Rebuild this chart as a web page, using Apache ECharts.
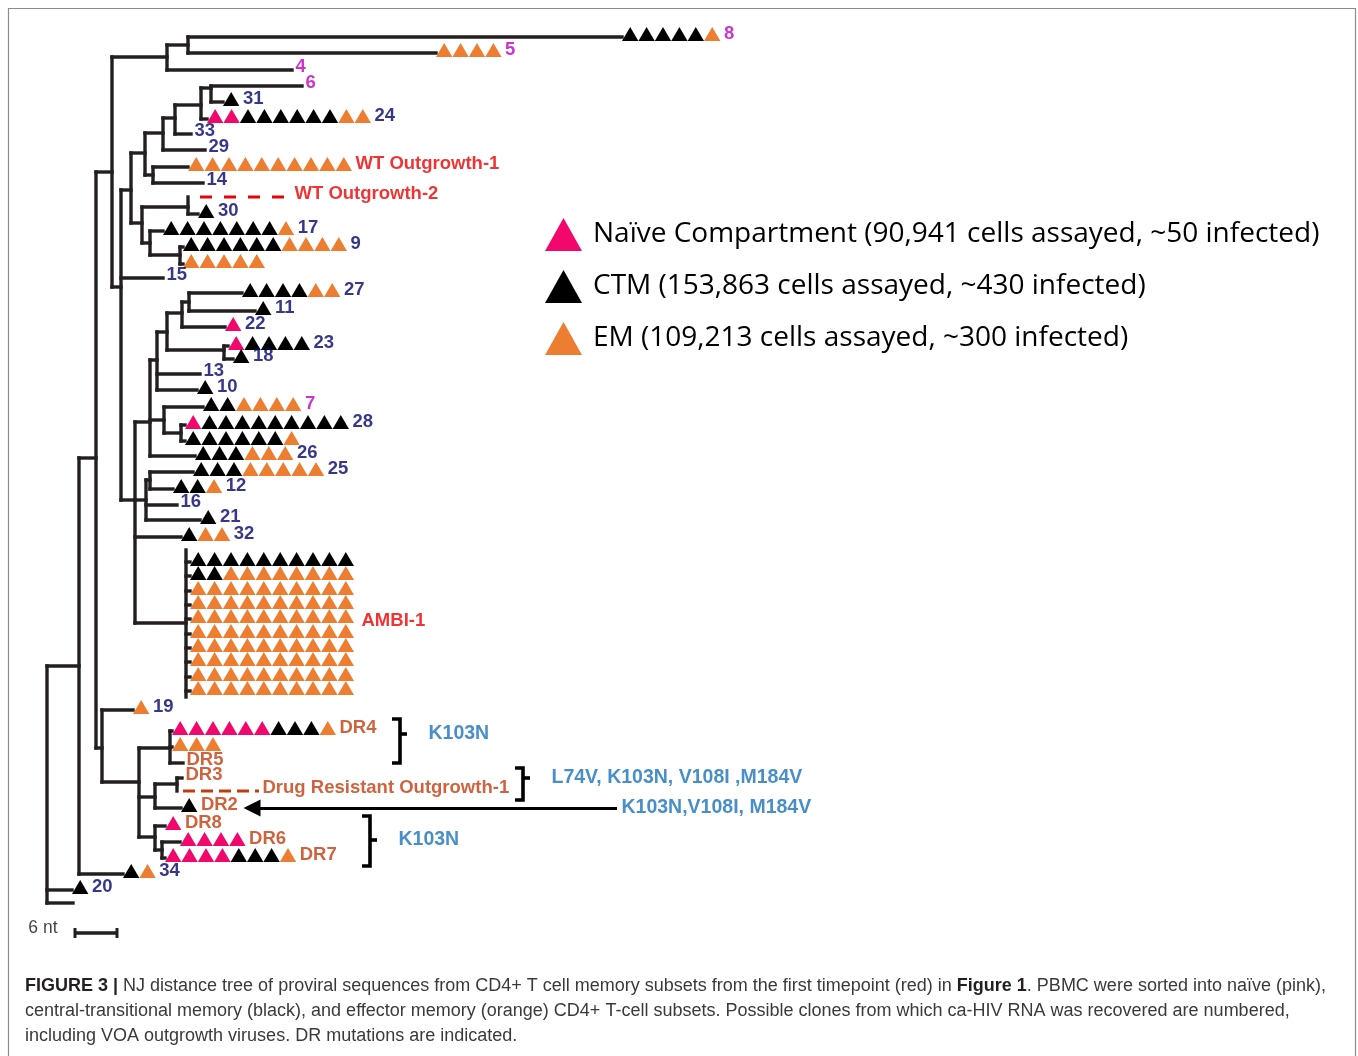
<!DOCTYPE html>
<html><head><meta charset="utf-8">
<script src="https://cdn.jsdelivr.net/npm/echarts@6/dist/echarts.min.js"></script>
<style>html,body{margin:0;padding:0;background:#fff}#c{width:1358px;height:1056px}</style>
</head><body><div id="c"></div>
<script>
// ---------- DATA ----------
// internal tree nodes: [id, parent, distance (x), row (y)]
const nodes = [
  ['R', null, 47, 785],
  ['B', 'R', 79, 666],
  ['C', 'B', 96, 458],
  ['A', 'C', 112, 172],
  ['T1', 'A', 167, 57],
  ['T2', 'T1', 188, 45],
  ['E', 'A', 121, 287],
  ['F', 'E', 131, 190],
  ['G1', 'F', 145, 153],
  ['G1a', 'G1', 163, 133],
  ['G1b', 'G1a', 175, 118],
  ['P', 'G1b', 201, 105],
  ['Q', 'P', 211, 88],
  ['Nwt', 'G1', 153, 175],
  ['G2', 'F', 142, 223],
  ['N30', 'G2', 188, 207],
  ['N17', 'G2', 150, 243],
  ['N9', 'N17', 180, 255],
  ['H', 'E', 135, 500],
  ['I', 'H', 150, 422],
  ['N1', 'I', 157, 360],
  ['N2', 'N1', 167, 332],
  ['N3', 'N2', 182, 313],
  ['N5', 'N3', 189, 302],
  ['N4', 'N2', 224, 350],
  ['N7', 'I', 164, 420],
  ['N8', 'N7', 181, 433],
  ['L', 'H', 146, 500],
  ['K', 'L', 150, 480],
  ['AMBI', 'H', 186, 623],
  ['D', 'C', 102, 748],
  ['E2', 'D', 139, 782],
  ['DR45', 'E2', 170, 748],
  ['Ndr3', 'E2', 155, 797],
  ['Ndr3b', 'Ndr3', 177, 784],
  ['Ndr8', 'E2', 155, 837],
  ['Ndr67', 'Ndr8', 162, 850]
];

// leaves: [label, parent, row (y), branch end (x), cells: P=naive, B=CTM, O=EM]
const leaves = [
  ['8', 'T2', 37, 622, 'BBBBBO'],
  ['5', 'T2', 53, 436, 'OOOO'],
  ['4', 'T1', 70, 292, ''],
  ['6', 'Q', 86, 302, ''],
  ['31', 'Q', 102, 223, 'B'],
  ['24', 'P', 119, 207, 'PPBBBBBBOO'],
  ['33', 'G1b', 134, 191, ''],
  ['29', 'G1a', 150, 205, ''],
  ['WT Outgrowth-1', 'Nwt', 167, 188, 'OOOOOOOOOO'],
  ['14', 'Nwt', 183, 203, ''],
  ['WT Outgrowth-2', 'N30', 197, 291, ''],
  ['30', 'N30', 214, 198, 'B'],
  ['17', 'N17', 231, 163, 'BBBBBBBO'],
  ['9', 'N9', 247, 183, 'BBBBBBOOOO'],
  ['', 'N9', 264, 183, 'OOOOO'],
  ['15', 'E', 278, 163, ''],
  ['27', 'N5', 293, 242, 'BBBBOO'],
  ['11', 'N5', 311, 255, 'B'],
  ['22', 'N3', 327, 225, 'P'],
  ['23', 'N4', 346, 228, 'PBBBB'],
  ['18', 'N4', 359, 233, 'B'],
  ['13', 'N1', 374, 200, ''],
  ['10', 'N1', 390, 197, 'B'],
  ['7', 'N7', 407, 203, 'BBOOOO'],
  ['28', 'N8', 425, 185, 'PBBBBBBBBB'],
  ['', 'N8', 441, 185, 'BBBBBBO'],
  ['26', 'I', 456, 195, 'BBBOOO'],
  ['25', 'K', 472, 193, 'BBBOOOOO'],
  ['12', 'K', 489, 173, 'BBO'],
  ['16', 'L', 505, 177, ''],
  ['21', 'L', 520, 200, 'B'],
  ['32', 'H', 537, 181, 'BOO'],
  ['19', 'D', 710, 133, 'O'],
  ['DR4', 'DR45', 731, 172, 'PPPPPPBBBO'],
  ['', 'DR45', 747, 172, 'OOO'],
  ['DR5', 'DR45', 763, 183, ''],
  ['DR3', 'Ndr3b', 778, 182, ''],
  ['Drug Resistant Outgrowth-1', 'Ndr3b', 791, 259, ''],
  ['DR2', 'Ndr3', 808, 181, 'B'],
  ['DR8', 'Ndr8', 826, 165, 'P'],
  ['DR6', 'Ndr67', 842, 180, 'PPPP'],
  ['DR7', 'Ndr67', 858, 165, 'PPPPBBBO'],
  ['34', 'B', 874, 123, 'BO'],
  ['20', 'R', 890, 72, 'B'],
  ['', 'R', 903, 73, '']
];

// AMBI-1 clone: rows of cells hanging from node AMBI
const ambiLabel = 'AMBI-1';
const ambiRowsY = [562, 576, 591, 605, 619, 634, 648, 662, 677, 691];
const ambiRowsEnd = 190;
const ambiRows = ['BBBBBBBBBB', 'BBOOOOOOOO', 'OOOOOOOOOO', 'OOOOOOOOOO', 'OOOOOOOOOO',
                  'OOOOOOOOOO', 'OOOOOOOOOO', 'OOOOOOOOOO', 'OOOOOOOOOO', 'OOOOOOOOOO'];

// compartments (legend)
const compartments = ['P', 'B', 'O'];
const compartmentNames = [
  'Naïve Compartment (90,941 cells assayed, ~50 infected)',
  'CTM (153,863 cells assayed, ~430 infected)',
  'EM (109,213 cells assayed, ~300 infected)'
];

// DR mutation brackets: [text, top row, bottom row, tick row, bracket x]
const bracketNotes = [
  ['K103N', 719, 763, 734, 392],
  ['L74V, K103N, V108I ,M184V', 768, 800, 778, 515],
  ['K103N', 816, 866, 840, 362]
];
// arrow note: [text, row, from x, to x]
const arrowNote = ['K103N,V108I, M184V', 808, 617, 250];

// scale bar: 6 nt, 7 distance units per nt
const scaleNt = 6, unitsPerNt = 7, scaleStart = 75, scaleRow = 933;

// ---------- STYLE ----------
const TW = 16.4, TH = 14;
const cellColors = { P: '#f2086c', B: '#000000', O: '#ed7d31' };
const treeColor = '#231f20';
const magentaSet = ['8', '5', '4', '6', '7'];
const redSet = ['WT Outgrowth-1', 'WT Outgrowth-2', 'AMBI-1'];
const dashStyles = {
  'WT Outgrowth-2': { color: '#ee0000', dash: [12, 12], offset: 12 },
  'Drug Resistant Outgrowth-1': { color: '#c43c0c', dash: [12, 6], offset: 12 }
};
function labelColor(t) {
  if (magentaSet.includes(t)) return '#c000c0';
  if (redSet.includes(t)) return '#ee0000';
  if (t.startsWith('DR') || t.startsWith('Drug')) return '#c43c0c';
  return '#04046e';
}

// ---------- BUILD ----------
const nodeMap = {};
nodes.forEach(n => nodeMap[n[0]] = { id: n[0], parent: n[1], x: n[2], y: n[3], ys: [] });
nodes.forEach(n => { if (n[1]) nodeMap[n[1]].ys.push(n[3]); });

const allLeaves = leaves.map(l => ({ label: l[0], parent: l[1], y: l[2], end: l[3], cells: l[4] }));
ambiRowsY.forEach((y, i) => allLeaves.push({ label: '', parent: 'AMBI', y: y, end: ambiRowsEnd, cells: ambiRows[i] }));
allLeaves.forEach(l => nodeMap[l.parent].ys.push(l.y));

// segments: [x1, y1, x2, y2, styleKey]
const segs = [];
Object.values(nodeMap).forEach(n => {
  const ys = n.ys.slice();
  if (n.parent) ys.push(n.y);
  let y0 = Math.min(...ys), y1 = Math.max(...ys);
  if (n.id === 'AMBI') { y0 -= 12; y1 += 6; }
  segs.push([n.x, y0, n.x, y1, '']);
  if (n.parent) segs.push([nodeMap[n.parent].x, n.y, n.x, n.y, '']);
});

const cellPts = { P: [], B: [], O: [] };
const labelPts = [];
allLeaves.forEach(l => {
  const px = nodeMap[l.parent].x;
  segs.push([px, l.y, l.end, l.y, dashStyles[l.label] ? l.label : '']);
  for (let i = 0; i < l.cells.length; i++) {
    cellPts[l.cells[i]].push([l.end + TW / 2 + i * TW, l.y]);
  }
  if (l.label) {
    labelPts.push({ name: l.label, value: [l.end + l.cells.length * TW + 3, l.y - 3],
      label: { color: labelColor(l.label) } });
  }
});
const ambiNode = nodeMap['AMBI'];
labelPts.push({ name: ambiLabel, value: [ambiRowsEnd + 10 * TW + 7, ambiNode.y - 2],
  label: { color: labelColor(ambiLabel) } });

// brackets as polylines
const bracketPolys = [];
const noteLabels = [];
bracketNotes.forEach(b => {
  const [t, top, bot, tick, bx] = b;
  bracketPolys.push([[bx, top], [bx + 8, top], [bx + 8, bot], [bx, bot]]);
  bracketPolys.push([[bx + 8, tick], [bx + 15, tick]]);
  noteLabels.push({ name: t, value: [bx + 36, tick] });
});
noteLabels.push({ name: arrowNote[0], value: [arrowNote[2] + 4, arrowNote[1]] });

const series = [];
series.push({
  type: 'custom', silent: true, z: 2,
  encode: { x: [0, 2], y: [1, 3] },
  data: segs,
  renderItem: function (params, api) {
    const d = segs[params.dataIndex];
    const p1 = api.coord([d[0], d[1]]), p2 = api.coord([d[2], d[3]]);
    const ds = dashStyles[d[4]];
    if (ds) {
      return { type: 'line', shape: { x1: p1[0], y1: p1[1], x2: p2[0], y2: p2[1] },
        style: { stroke: ds.color, lineWidth: 3, lineDash: ds.dash, lineDashOffset: ds.offset, lineCap: 'butt' } };
    }
    return { type: 'line', shape: { x1: p1[0], y1: p1[1], x2: p2[0], y2: p2[1] },
      style: { stroke: treeColor, lineWidth: 3.4, lineCap: 'square' } };
  }
});
series.push({
  type: 'custom', silent: true, z: 2,
  data: bracketPolys.map((p, i) => [p[0][0], p[0][1], i]),
  encode: { x: 0, y: 1 },
  renderItem: function (params, api) {
    const pts = bracketPolys[params.dataIndex].map(p => api.coord(p));
    return { type: 'polyline', shape: { points: pts },
      style: { stroke: '#000', lineWidth: 3.6, fill: null, lineJoin: 'miter', lineCap: 'butt' } };
  }
});
series.push({
  type: 'lines', coordinateSystem: 'cartesian2d', silent: true, z: 2,
  symbol: ['none', 'triangle'], symbolSize: [0, 17],
  lineStyle: { color: '#000', width: 3, opacity: 1 },
  itemStyle: { color: '#000' },
  data: [{ coords: [[arrowNote[2], arrowNote[1]], [arrowNote[3] + 2, arrowNote[1]]] }]
});
series.push({
  type: 'line', silent: true, z: 2,
  data: [[scaleStart, scaleRow], [scaleStart + scaleNt * unitsPerNt, scaleRow]],
  symbol: 'rect', symbolSize: [3, 10], showSymbol: true,
  itemStyle: { color: treeColor }, lineStyle: { color: treeColor, width: 3.6 }
});
compartments.forEach((c, i) => {
  series.push({
    type: 'scatter', name: compartmentNames[i], silent: true, z: 4,
    symbol: 'triangle', symbolSize: [TW, TH], symbolOffset: [0, -3],
    itemStyle: { color: cellColors[c], opacity: 1 },
    data: cellPts[c]
  });
});
series.push({
  type: 'scatter', silent: true, z: 5, symbolSize: 1,
  itemStyle: { color: 'rgba(0,0,0,0)' },
  label: { show: true, position: 'right', distance: 0, formatter: '{b}',
    fontFamily: 'Liberation Sans', fontWeight: 'bold', fontSize: 18.5 },
  data: labelPts
});
series.push({
  type: 'scatter', silent: true, z: 5, symbolSize: 1,
  itemStyle: { color: 'rgba(0,0,0,0)' },
  label: { show: true, position: 'right', distance: 0, formatter: '{b}', color: '#1a72ba',
    fontFamily: 'Liberation Sans', fontWeight: 'bold', fontSize: 19.5 },
  data: noteLabels
});
series.push({
  type: 'scatter', silent: true, z: 5, symbolSize: 1,
  itemStyle: { color: 'rgba(0,0,0,0)' },
  label: { show: true, position: 'left', distance: 0, formatter: '{b}', color: '#111',
    fontFamily: 'Liberation Sans', fontSize: 17.5 },
  data: [{ name: scaleNt + ' nt', value: [scaleStart - 17, scaleRow - 5] }]
});

const option = {
  animation: false,
  backgroundColor: '#ffffff',
  grid: { left: 0, right: 0, top: 0, bottom: 0 },
  xAxis: { type: 'value', min: 0, max: 1358, show: false },
  yAxis: { type: 'value', min: 0, max: 1056, inverse: true, show: false },
  legend: {
    data: compartmentNames, orient: 'vertical', left: 545, top: 218, padding: 0,
    icon: 'triangle', itemWidth: 37, itemHeight: 33, itemGap: 19, selectedMode: false,
    textStyle: { fontFamily: 'Open Sans', fontSize: 28, color: '#000', padding: [0, 0, 0, 6] }
  },
  graphic: [
    { type: 'rect', shape: { x: 8.5, y: 8.5, width: 1347, height: 1080 }, silent: true,
      style: { fill: 'none', stroke: '#8c8c8c', lineWidth: 1.2 } },
    { type: 'text', left: 25, top: 977, silent: true,
      style: { text: '{b|FIGURE 3 |} NJ distance tree of proviral sequences from CD4+ T cell memory subsets from the first timepoint (red) in {b|Figure 1}. PBMC were sorted into naïve (pink),',
        fontFamily: 'Liberation Sans', fontSize: 18, fill: '#3a3a3a',
        rich: { b: { fontFamily: 'Liberation Sans', fontSize: 18, fontWeight: 'bold', fill: '#231f20' } } } },
    { type: 'text', left: 25, top: 1002, silent: true,
      style: { text: 'central-transitional memory (black), and effector memory (orange) CD4+ T-cell subsets. Possible clones from which ca-HIV RNA was recovered are numbered,',
        fontFamily: 'Liberation Sans', fontSize: 18, fill: '#3a3a3a' } },
    { type: 'text', left: 25, top: 1027, silent: true,
      style: { text: 'including VOA outgrowth viruses. DR mutations are indicated.',
        fontFamily: 'Liberation Sans', fontSize: 18, fill: '#3a3a3a' } }
  ],
  series: series
};
const chart = echarts.init(document.getElementById('c'));
chart.setOption(option);
</script>
</body></html>
